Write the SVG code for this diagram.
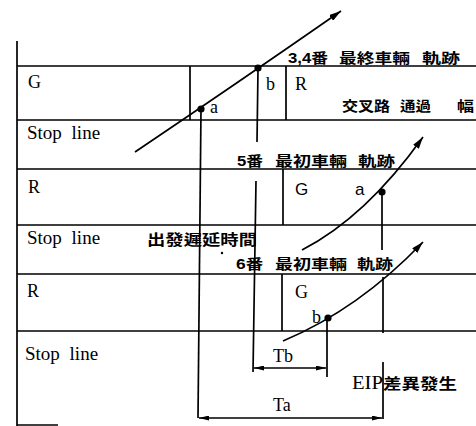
<svg xmlns="http://www.w3.org/2000/svg" width="476" height="426" viewBox="0 0 476 426">
<style>
.ln{stroke:#000;stroke-width:1.7;fill:none}
.tr{stroke:#000;stroke-width:1.7;fill:none}
.dim{stroke:#000;stroke-width:1.4;fill:none}
.dot{fill:#000}
.lat{font-family:"Liberation Serif","Times New Roman",serif;font-size:18px;fill:#000}
.stop{font-family:"Liberation Serif","Times New Roman",serif;font-size:19px;fill:#000;word-spacing:5px}
.sans{font-family:"Liberation Sans",Arial,sans-serif;font-size:17px;fill:#000}
.cjk{font-family:"Liberation Sans","Noto Sans CJK KR",sans-serif;font-size:14px;font-weight:700;fill:#000}
.cjk2{font-family:"Noto Sans CJK KR",sans-serif;font-size:15px;font-weight:700;fill:#000}
</style>
<defs>
<marker id="ah" viewBox="0 0 12 7" refX="12" refY="3.5" markerWidth="12" markerHeight="7" markerUnits="userSpaceOnUse" orient="auto-start-reverse"><path d="M0,0 L12,3.5 L0,7 z" fill="#000"/></marker>
<marker id="dh" viewBox="0 0 10 5" refX="10" refY="2.5" markerWidth="10" markerHeight="5" markerUnits="userSpaceOnUse" orient="auto-start-reverse"><path d="M0,0 L10,2.5 L0,5 z" fill="#000"/></marker>
</defs>
<rect width="476" height="426" fill="#fff"/>

<g id="grid">
<path class="ln" d="M17,41 V426"/>
<path class="ln" d="M17,66 H476 M17,120 H476 M17,169 H476 M17,225 H476 M17,274 H476 M17,331 H476"/>
<path class="ln" d="M17,425 H58"/>
</g>

<g id="row1">
<path class="ln" d="M190,66 V120 M286,66 V120"/>
<text class="lat" x="28" y="88">G</text>
<text class="lat" x="266" y="90">b</text>
<text class="lat" x="295" y="90">R</text>
<text class="cjk" y="111"><tspan x="342" textLength="48" lengthAdjust="spacingAndGlyphs">交叉路</tspan> <tspan x="400" textLength="31" lengthAdjust="spacingAndGlyphs">通過</tspan> <tspan x="457" textLength="17" lengthAdjust="spacingAndGlyphs">幅</tspan></text>
<text class="stop" x="27" y="139">Stop line</text>
</g>

<g id="row2">
<path class="ln" d="M283,169 V225"/>
<text class="lat" x="28" y="193">R</text>
<text class="sans" x="295" y="195">G</text>
<text class="sans" x="355" y="195">a</text>
<text class="stop" x="27" y="244">Stop line</text>
<text class="cjk2" x="147" y="245" textLength="110" lengthAdjust="spacingAndGlyphs">出發遲延時間</text>
<circle class="dot" cx="222" cy="253" r="1.2"/>
</g>

<g id="row3">
<path class="ln" d="M282,274 V331"/>
<text class="lat" x="27" y="297">R</text>
<text class="lat" x="295" y="298">G</text>
<text class="lat" x="312" y="323">b</text>
<text class="stop" x="25" y="360">Stop line</text>
</g>

<g id="connectors">
<path class="tr" d="M135,152 Q236,84 341,11" marker-end="url(#ah)"/>
<path class="tr" d="M302,250 Q366,217 423,137" marker-end="url(#ah)"/>
<path class="tr" d="M283,341 Q359,309 423,242" marker-end="url(#ah)"/>
<path class="ln" d="M201,109 L198,418"/>
<path class="ln" d="M258,69 L257,142 M256,181 L253,372"/>
<path class="ln" d="M382,193 V250 M383,277 V333 M383,362 V419"/>
<path class="ln" d="M327,318 V377"/>
<path class="dim" d="M254,368 H326" marker-start="url(#dh)" marker-end="url(#dh)"/>
<path class="dim" d="M199,418 H382" marker-start="url(#dh)" marker-end="url(#dh)"/>
</g>

<g id="points">
<circle class="dot" cx="201" cy="109" r="3.6"/>
<text class="lat" x="210" y="113">a</text>
<circle class="dot" cx="258" cy="68" r="3.6"/>
<circle class="dot" cx="382" cy="192" r="3.6"/>
<circle class="dot" cx="328" cy="318" r="3.6"/>
</g>

<g id="labels">
<text class="cjk" y="63"><tspan x="288" textLength="40" lengthAdjust="spacingAndGlyphs">3,4番</tspan> <tspan x="339" textLength="71" lengthAdjust="spacingAndGlyphs">最終車輛</tspan> <tspan x="422" textLength="38" lengthAdjust="spacingAndGlyphs">軌跡</tspan></text>
<text class="cjk" y="166"><tspan x="237" textLength="26" lengthAdjust="spacingAndGlyphs">5番</tspan> <tspan x="275" textLength="72" lengthAdjust="spacingAndGlyphs">最初車輛</tspan> <tspan x="358" textLength="37" lengthAdjust="spacingAndGlyphs">軌跡</tspan></text>
<text class="cjk" y="269"><tspan x="236" textLength="27" lengthAdjust="spacingAndGlyphs">6番</tspan> <tspan x="275" textLength="72" lengthAdjust="spacingAndGlyphs">最初車輛</tspan> <tspan x="357" textLength="36" lengthAdjust="spacingAndGlyphs">軌跡</tspan></text>
<text class="lat" x="273" y="362">Tb</text>
<text class="lat" x="273" y="411">Ta</text>
<text y="389"><tspan class="lat" x="352" font-size="17" textLength="31" lengthAdjust="spacingAndGlyphs">EIP</tspan><tspan class="cjk2" x="383" textLength="74" lengthAdjust="spacingAndGlyphs">差異發生</tspan></text>
</g>
</svg>
